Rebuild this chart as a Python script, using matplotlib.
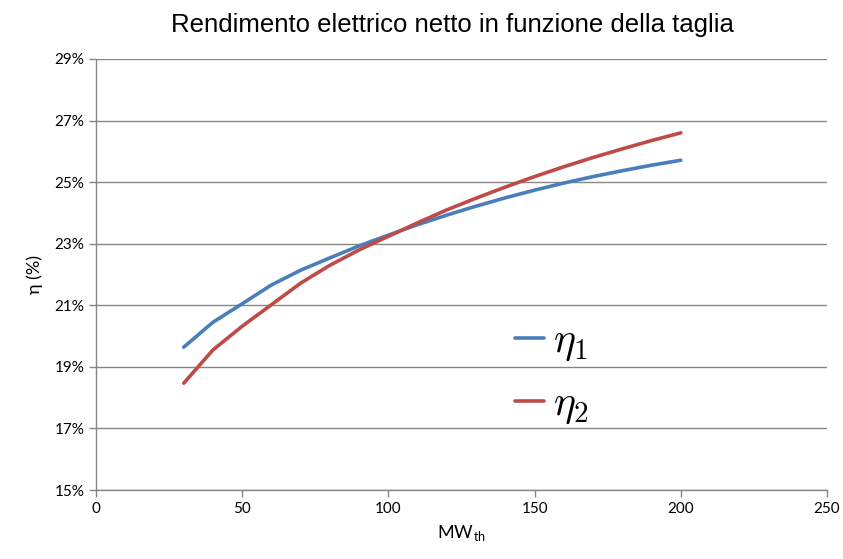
import matplotlib
matplotlib.use("Agg")
import matplotlib.pyplot as plt
from matplotlib.ticker import FuncFormatter

# ============================================================
# DATA
# ============================================================

taglia = [30, 40, 50, 60, 70, 80, 90, 100, 110, 120, 130, 140, 150, 160, 170, 180, 190, 200]
eta_1 = [19.64, 20.45, 21.05, 21.66, 22.14, 22.54, 22.93, 23.28, 23.62, 23.93,
         24.22, 24.49, 24.74, 24.97, 25.18, 25.37, 25.55, 25.71]
eta_2 = [18.47, 19.55, 20.32, 21.02, 21.72, 22.30, 22.80, 23.24, 23.68, 24.10,
         24.48, 24.84, 25.18, 25.50, 25.80, 26.08, 26.35, 26.60]

x_ticks = [0, 50, 100, 150, 200, 250]
y_ticks = [15, 17, 19, 21, 23, 25, 27, 29]

# ============================================================
# PLOT
# ============================================================

plt.rcParams["mathtext.fontset"] = "cm"
tick_font = ["Lato", "DejaVu Sans"]
grey = "#868686"

fig = plt.figure(figsize=(8.43, 5.59), dpi=100)
ax = fig.add_axes([0.1139, 0.1234, 0.981 - 0.1139, 0.8945 - 0.1234])

ax.plot(taglia, eta_1, color="#4A7EBB", linewidth=2.6, solid_capstyle="round", label=r"$\eta_1$")
ax.plot(taglia, eta_2, color="#BE4B48", linewidth=2.6, solid_capstyle="round", label=r"$\eta_2$")

ax.set_xlim(0, 250)
ax.set_ylim(15, 29)
ax.set_xticks(x_ticks)
ax.set_yticks(y_ticks)
ax.yaxis.set_major_formatter(FuncFormatter(lambda v, _: f"{v:.0f}%"))

ax.grid(axis="y", color=grey, linewidth=1.0)
ax.set_axisbelow(True)
for side in ["top", "right"]:
    ax.spines[side].set_visible(False)
for side in ["left", "bottom"]:
    ax.spines[side].set_color(grey)
    ax.spines[side].set_linewidth(1.0)
ax.tick_params(axis="both", direction="out", length=5, color=grey, width=1.0,
               labelsize=11, labelcolor="black")
for lab in ax.get_xticklabels() + ax.get_yticklabels():
    lab.set_family(tick_font)

ax.set_xlabel(r"MW$_{\mathregular{th}}$", fontsize=13, family=tick_font, labelpad=6)
ax.set_ylabel("η (%)", fontsize=13, family=tick_font, labelpad=8)

fig.text(452 / 843, 1 - 25 / 559, "Rendimento elettrico netto in funzione della taglia",
         ha="center", va="center", fontsize=18.5,
         family=["Liberation Sans", "DejaVu Sans"])

ax.legend(loc="center left", bbox_to_anchor=(0.522, 0.272), frameon=False,
          fontsize=30, handlelength=0.7, handletextpad=0.2, labelspacing=0.45)

fig.savefig("out.png", dpi=100)
